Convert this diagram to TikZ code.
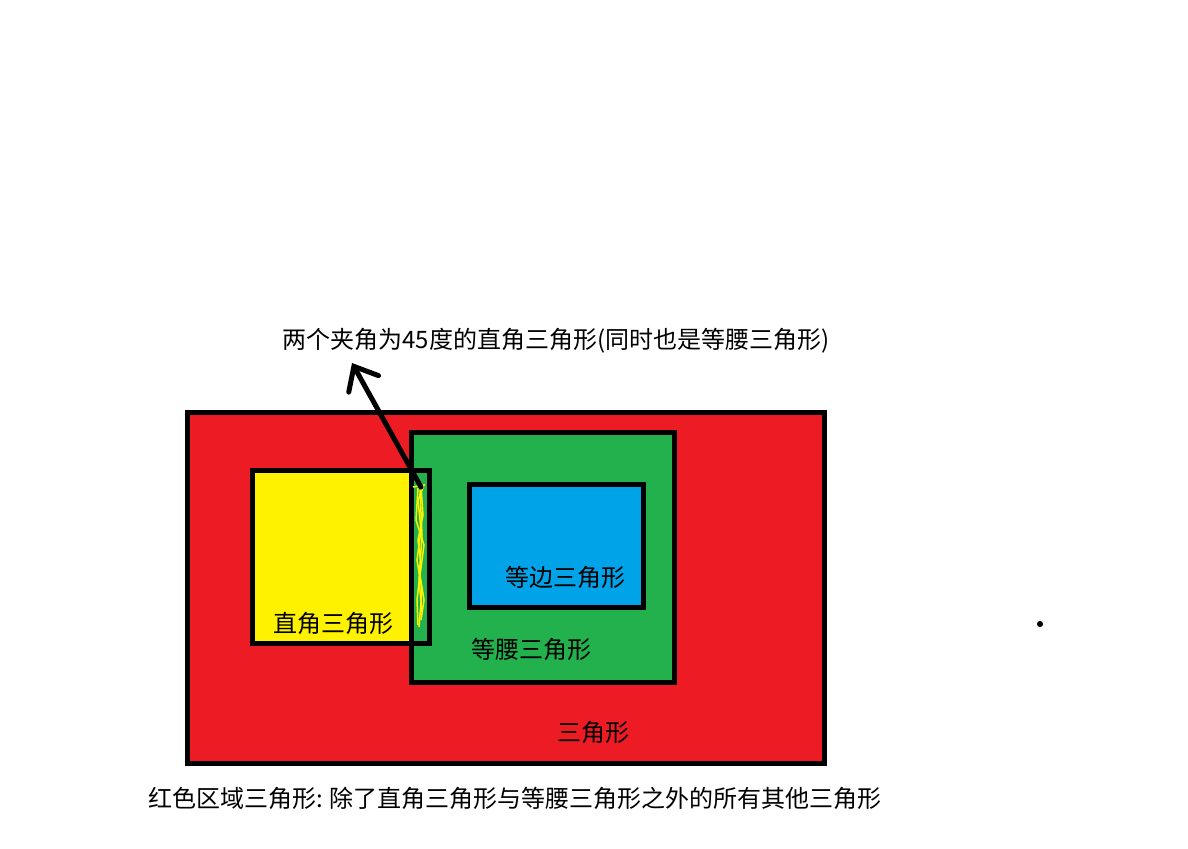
\documentclass[tikz,border=0pt]{standalone}
\usepackage{fontspec}
\newfontfamily\cjk{Noto Sans CJK SC}
\usetikzlibrary{arrows.meta}
\definecolor{pred}{HTML}{ED1C24}
\definecolor{pgreen}{HTML}{22B14C}
\definecolor{pyellow}{HTML}{FFF200}
\definecolor{pblue}{HTML}{00A2E8}
\tikzset{
  frame/.style={draw=black, line width=2.5pt},
  lbl/.style={font=\cjk\fontsize{12}{14}\selectfont, inner sep=0pt, text=black},
  scrib/.style={draw=pyellow, line width=0.75pt}
}
\begin{document}
\begin{tikzpicture}[x=0.5pt,y=-0.5pt]
\useasboundingbox[fill=white] (0,0) rectangle (1188,848);
% fills
\fill[pred] (187.5,412) rectangle (824,763);
\fill[pyellow] (252,470) rectangle (429,643);
\fill[pgreen] (411.5,432) rectangle (674,682);
\fill[pblue] (469,484) rectangle (643,607);
% frames
\draw[frame] (187.5,412) rectangle (824,763);
\draw[frame] (411.5,432) rectangle (674,682);
\draw[frame] (252,470) rectangle (429,643);
\draw[frame] (469,484) rectangle (643,607);
% yellow scribbles in overlap strip
\draw[scrib] (413,487) -- (424,485) -- (418,500) -- (421,530) -- (417,560) -- (422,590) -- (419,627);
\draw[scrib] (418,488) -- (416,520) -- (424,545) -- (420,575) -- (424,600) -- (421,620);
\draw[scrib] (421,486) -- (423,515) -- (418,540) -- (421,565) -- (417,600) -- (418,625);
\draw[scrib] (420,490) -- (422,535) -- (419,580) -- (422,612);
% texts
\node[lbl] (top) at (556,341) {两个夹角为45度的直角三角形(同时也是等腰三角形)};
\node[lbl] (right) at (333,623) {直角三角形};
\node[lbl] (equi) at (565,577) {等边三角形};
\node[lbl] (iso) at (531,649) {等腰三角形};
\node[lbl] (tri) at (593,732) {三角形};
\node[lbl] (bottom) at (515,798) {红色区域三角形: 除了直角三角形与等腰三角形之外的所有其他三角形};
% arrow
\coordinate (astart) at (421,487);
\coordinate (atip) at (352,363);
\draw[line width=2.5pt, line cap=round, -{Straight Barb[length=10pt,width=17pt,line cap=round]}] (astart) -- (atip);
% dot
\fill[black] (1040,624) circle (3);
\end{tikzpicture}
\end{document}
